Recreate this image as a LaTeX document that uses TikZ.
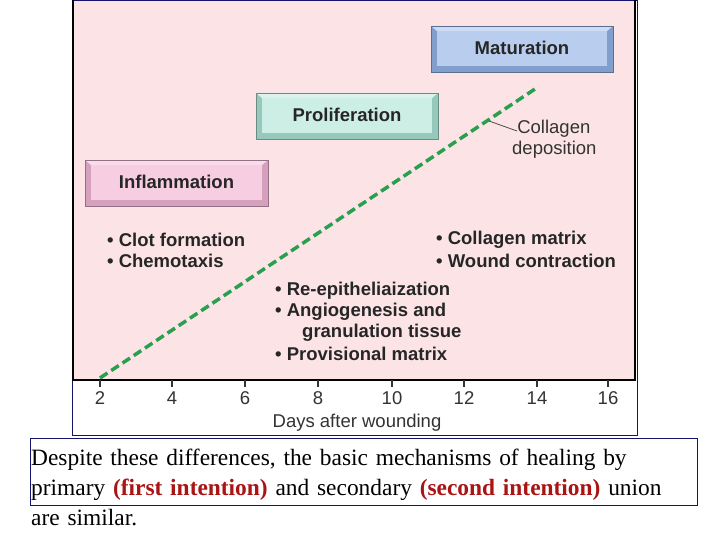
\documentclass[tikz,border=0pt]{standalone}
\usepackage{fontspec}
\setmainfont{Liberation Serif}
\newfontfamily\arial{Liberation Sans}
\definecolor{bgpink}{RGB}{252,228,230}
\definecolor{pkL}{RGB}{246,205,225}\definecolor{pkD}{RGB}{212,160,190}
\definecolor{tlL}{RGB}{205,238,228}\definecolor{tlD}{RGB}{150,200,188}
\definecolor{blL}{RGB}{185,205,238}\definecolor{blD}{RGB}{130,158,205}
\definecolor{grn}{RGB}{40,160,80}
\definecolor{frame}{RGB}{20,20,110}
\definecolor{redt}{RGB}{170,20,20}
\tikzset{lbl/.style={font=\arial\bfseries\fontsize{18.5}{21}\selectfont,text=black!85},
bul/.style={font=\arial\bfseries\fontsize{18.5}{21}\selectfont,anchor=west,text=black!85,inner sep=0pt},
tk/.style={font=\arial\fontsize{18.5}{21}\selectfont,text=black!80}}
\newcommand{\bevbox}[7]{% x1 y1 x2 y2 light dark text
 \fill[#6] (#1,#2) rectangle (#3,#4);
 \fill[#5] (#1+6,#2+5) rectangle (#3-6,#4-6);
 \fill[#5!70!white] (#1,#2) -- (#3,#2) -- (#3-6,#2+5) -- (#1+6,#2+5) -- cycle;
 \draw[#6!70!black,line width=0.6pt] (#1,#2) rectangle (#3,#4);
 \node[lbl] at ({(#1+#3)/2},{(#2+#4)/2-1}) {#7};}
\begin{document}
\begin{tikzpicture}[x=1pt,y=-1pt]
\useasboundingbox (0,0) rectangle (720,540);
\fill[white] (0,0) rectangle (720,540);
\fill[bgpink] (73,0) rectangle (635,380);
\draw[frame,line width=0.8pt] (72,0) rectangle (637,435);
\draw[black,line width=2pt] (73,0) -- (73,380) -- (635,380) -- (635,0);
\foreach \d/\x in {2/100,4/172,6/245,8/318,10/392,12/464,14/537,16/608}{
 \draw[black!80,line width=1.2pt] (\x,380) -- (\x,387);
 \node[tk] at (\x,398) {\d};}
\node[tk] (ax) at (357,423) {Days after wounding};
\bevbox{85}{160}{268}{206}{pkL}{pkD}{Inflammation}
\bevbox{256}{93}{438}{139}{tlL}{tlD}{Proliferation}
\bevbox{431}{26}{613}{72}{blL}{blD}{Maturation}
\coordinate (s) at (100,378); \coordinate (e) at (538,87);
\draw[grn,line width=3.5pt,dash pattern=on 9pt off 4.5pt] (s) -- (e);
\node[font=\arial\fontsize{18.5}{21}\selectfont,align=left,anchor=west,text=black!80,inner sep=0pt] (col) at (512,139) {\ Collagen\\deposition};
\coordinate (lp) at (489,121);
\draw[black!70,line width=0.8pt] (lp) -- (517,131);
\node[bul] at (107,240) {• Clot formation};
\node[bul] at (107,261) {• Chemotaxis};
\node[bul] at (436,240) {• Collagen matrix};
\node[bul] at (436,261) {• Wound contraction};
\node[bul] at (275,291) {• Re-epitheliaization};
\node[bul] at (275,312) {• Angiogenesis and};
\node[bul] at (302,333) {granulation tissue};
\node[bul] at (275,354) {• Provisional matrix};
\draw[frame,line width=0.8pt] (30,438) rectangle (697,505);
\node[anchor=north west,align=left,font=\fontsize{23.4}{30}\selectfont,inner sep=0pt,text width=690pt] (t) at (31,449) {Despite these differences, the basic mechanisms of healing by\\primary {\color{redt}\bfseries(first intention)} and secondary {\color{redt}\bfseries(second intention)} union\\are similar.};
\end{tikzpicture}
\end{document}
